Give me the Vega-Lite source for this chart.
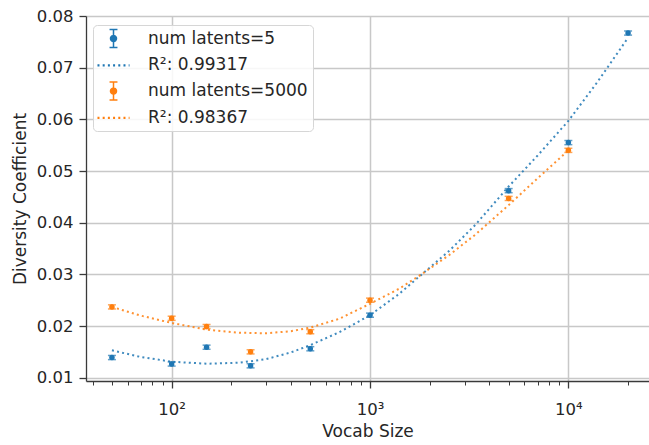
{
  "$schema": "https://vega.github.io/schema/vega-lite/v6.json",
  "width": 563,
  "height": 365,
  "autosize": {"type": "none"},
  "padding": {"left": 86, "top": 16, "right": 0, "bottom": 64},
  "background": "white",
  "config": {
    "font": "DejaVu Sans",
    "view": {"stroke": null},
    "axis": {
      "labelFont": "DejaVu Sans",
      "titleFont": "DejaVu Sans",
      "labelFontSize": 16.5,
      "titleFontSize": 17,
      "titleFontWeight": "normal",
      "labelColor": "#262626",
      "titleColor": "#262626",
      "domainColor": "#3a3a3a",
      "domainWidth": 1.3,
      "tickColor": "#3a3a3a",
      "gridColor": "#c8c8c8",
      "gridWidth": 1.5
    },
    "legend": {
      "labelFont": "DejaVu Sans",
      "labelFontSize": 17,
      "labelColor": "#262626",
      "symbolSize": 324,
      "symbolStrokeWidth": 1.5,
      "padding": 5,
      "rowPadding": 4.8,
      "symbolOffset": 7,
      "labelOffset": 26,
      "fillColor": "rgba(255,255,255,0.85)",
      "strokeColor": "#d6d6d6",
      "cornerRadius": 4
    }
  },
  "datasets": {
    "obs": [
      {"vocab": 50, "div": 0.0139, "lo": 0.0135, "hi": 0.0143, "label": "num latents=5"},
      {"vocab": 100, "div": 0.01265, "lo": 0.01225, "hi": 0.01305, "label": "num latents=5"},
      {"vocab": 150, "div": 0.0159, "lo": 0.0155, "hi": 0.0163, "label": "num latents=5"},
      {"vocab": 250, "div": 0.0123, "lo": 0.0119, "hi": 0.0127, "label": "num latents=5"},
      {"vocab": 500, "div": 0.0156, "lo": 0.0152, "hi": 0.016, "label": "num latents=5"},
      {"vocab": 1000, "div": 0.0221, "lo": 0.0217, "hi": 0.0225, "label": "num latents=5"},
      {"vocab": 5000, "div": 0.0462, "lo": 0.0458, "hi": 0.0466, "label": "num latents=5"},
      {"vocab": 10000, "div": 0.0555, "lo": 0.0551, "hi": 0.0559, "label": "num latents=5"},
      {"vocab": 20000, "div": 0.0767, "lo": 0.0763, "hi": 0.0771, "label": "num latents=5"},
      {"vocab": 50, "div": 0.0237, "lo": 0.0233, "hi": 0.0241, "label": "num latents=5000"},
      {"vocab": 100, "div": 0.0215, "lo": 0.0211, "hi": 0.0219, "label": "num latents=5000"},
      {"vocab": 150, "div": 0.0199, "lo": 0.0195, "hi": 0.0203, "label": "num latents=5000"},
      {"vocab": 250, "div": 0.015, "lo": 0.0146, "hi": 0.0154, "label": "num latents=5000"},
      {"vocab": 500, "div": 0.0189, "lo": 0.0185, "hi": 0.0193, "label": "num latents=5000"},
      {"vocab": 1000, "div": 0.025, "lo": 0.0246, "hi": 0.0254, "label": "num latents=5000"},
      {"vocab": 5000, "div": 0.0447, "lo": 0.0443, "hi": 0.0451, "label": "num latents=5000"},
      {"vocab": 10000, "div": 0.054, "lo": 0.0536, "hi": 0.0544, "label": "num latents=5000"}
    ],
    "fit": [
      {"vocab": 50, "div": 0.0153, "label": "R²: 0.99317"},
      {"vocab": 70, "div": 0.014, "label": "R²: 0.99317"},
      {"vocab": 100, "div": 0.0131, "label": "R²: 0.99317"},
      {"vocab": 150, "div": 0.0127, "label": "R²: 0.99317"},
      {"vocab": 220, "div": 0.0129, "label": "R²: 0.99317"},
      {"vocab": 300, "div": 0.0136, "label": "R²: 0.99317"},
      {"vocab": 400, "div": 0.0149, "label": "R²: 0.99317"},
      {"vocab": 500, "div": 0.0163, "label": "R²: 0.99317"},
      {"vocab": 700, "div": 0.0188, "label": "R²: 0.99317"},
      {"vocab": 1000, "div": 0.0221, "label": "R²: 0.99317"},
      {"vocab": 1400, "div": 0.0262, "label": "R²: 0.99317"},
      {"vocab": 1800, "div": 0.0298, "label": "R²: 0.99317"},
      {"vocab": 2500, "div": 0.0345, "label": "R²: 0.99317"},
      {"vocab": 3400, "div": 0.0396, "label": "R²: 0.99317"},
      {"vocab": 5000, "div": 0.047, "label": "R²: 0.99317"},
      {"vocab": 7000, "div": 0.053, "label": "R²: 0.99317"},
      {"vocab": 10000, "div": 0.0597, "label": "R²: 0.99317"},
      {"vocab": 14000, "div": 0.0672, "label": "R²: 0.99317"},
      {"vocab": 20000, "div": 0.0758, "label": "R²: 0.99317"},
      {"vocab": 50, "div": 0.0237, "label": "R²: 0.98367"},
      {"vocab": 70, "div": 0.022, "label": "R²: 0.98367"},
      {"vocab": 100, "div": 0.0206, "label": "R²: 0.98367"},
      {"vocab": 150, "div": 0.0193, "label": "R²: 0.98367"},
      {"vocab": 220, "div": 0.0187, "label": "R²: 0.98367"},
      {"vocab": 300, "div": 0.0186, "label": "R²: 0.98367"},
      {"vocab": 400, "div": 0.019, "label": "R²: 0.98367"},
      {"vocab": 500, "div": 0.0197, "label": "R²: 0.98367"},
      {"vocab": 700, "div": 0.0214, "label": "R²: 0.98367"},
      {"vocab": 1000, "div": 0.0243, "label": "R²: 0.98367"},
      {"vocab": 1400, "div": 0.0272, "label": "R²: 0.98367"},
      {"vocab": 1800, "div": 0.0299, "label": "R²: 0.98367"},
      {"vocab": 2500, "div": 0.0337, "label": "R²: 0.98367"},
      {"vocab": 3400, "div": 0.0377, "label": "R²: 0.98367"},
      {"vocab": 5000, "div": 0.0434, "label": "R²: 0.98367"},
      {"vocab": 7000, "div": 0.0486, "label": "R²: 0.98367"},
      {"vocab": 10000, "div": 0.054, "label": "R²: 0.98367"}
    ]
  },
  "encoding": {
    "x": {
      "field": "vocab",
      "type": "quantitative",
      "scale": {"type": "log", "domain": [37, 25500], "nice": false},
      "axis": {
        "title": "Vocab Size",
        "values": [40, 50, 60, 70, 80, 90, 100, 200, 300, 400, 500, 600, 700, 800, 900, 1000, 2000, 3000, 4000, 5000, 6000, 7000, 8000, 9000, 10000, 20000],
        "labelExpr": "datum.value === 100 ? '10²' : datum.value === 1000 ? '10³' : datum.value === 10000 ? '10⁴' : ''",
        "labelFlush": false,
        "labelOverlap": false,
        "labelPadding": 13,
        "titlePadding": 6,
        "tickSize": {"condition": {"test": "datum.value === 100 || datum.value === 1000 || datum.value === 10000", "value": 7}, "value": 4},
        "tickWidth": {"condition": {"test": "datum.value === 100 || datum.value === 1000 || datum.value === 10000", "value": 1.3}, "value": 1},
        "gridOpacity": {"condition": {"test": "datum.value === 100 || datum.value === 1000 || datum.value === 10000", "value": 1}, "value": 0}
      }
    },
    "y": {
      "field": "div",
      "type": "quantitative",
      "scale": {"domain": [0.00936, 0.08], "nice": false, "zero": false},
      "axis": {
        "title": "Diversity Coefficient",
        "values": [0.01, 0.02, 0.03, 0.04, 0.05, 0.06, 0.07, 0.08],
        "format": ".2f",
        "tickSize": 7,
        "tickWidth": 1.3,
        "labelPadding": 6,
        "titlePadding": 7
      }
    },
    "color": {
      "field": "label",
      "type": "nominal",
      "scale": {
        "domain": ["num latents=5", "R²: 0.99317", "num latents=5000", "R²: 0.98367"],
        "range": ["#1f77b4", "#1f77b4", "#ff7f0e", "#ff7f0e"]
      },
      "legend": {
        "title": null,
        "orient": "none",
        "legendX": 7,
        "legendY": 9,
        "encode": {
          "symbols": {
            "update": {
              "shape": {"signal": "datum.index % 2 === 0 ? 'M-0.44,-1H0.44M0,-1V1M-0.44,1H0.44M0.33,0A0.33,0.33,0,1,1,-0.33,0A0.33,0.33,0,1,1,0.33,0Z' : 'M-1.78,0H1.78'"},
              "strokeDash": {"signal": "datum.index % 2 === 0 ? [1, 0] : [2, 3.2]"},
              "strokeWidth": {"signal": "datum.index % 2 === 0 ? 1.5 : 2.2"},
              "stroke": {"scale": "color", "field": "value"},
              "fill": {"scale": "color", "field": "value"},
              "opacity": {"value": 1}
            }
          }
        }
      }
    }
  },
  "layer": [
    {
      "data": {"values": [{"top": 0.08}]},
      "mark": {"type": "rule", "color": "#3a3a3a", "strokeWidth": 1.3},
      "encoding": {
        "y": {"field": "top", "type": "quantitative"},
        "color": null
      }
    },
    {
      "data": {"name": "fit"},
      "mark": {"type": "line", "strokeWidth": 2, "strokeDash": [2, 3.2], "opacity": 0.85},
      "encoding": {}
    },
    {
      "data": {"name": "obs"},
      "mark": {"type": "rule", "strokeWidth": 1.5},
      "encoding": {
        "y": {"field": "lo", "type": "quantitative"},
        "y2": {"field": "hi"}
      }
    },
    {
      "data": {"name": "obs"},
      "mark": {"type": "tick", "orient": "horizontal", "size": 8, "thickness": 1.5},
      "encoding": {"y": {"field": "lo", "type": "quantitative"}}
    },
    {
      "data": {"name": "obs"},
      "mark": {"type": "tick", "orient": "horizontal", "size": 8, "thickness": 1.5},
      "encoding": {"y": {"field": "hi", "type": "quantitative"}}
    },
    {
      "data": {"name": "obs"},
      "mark": {"type": "point", "filled": true, "size": 30, "opacity": 1},
      "encoding": {}
    }
  ]
}
